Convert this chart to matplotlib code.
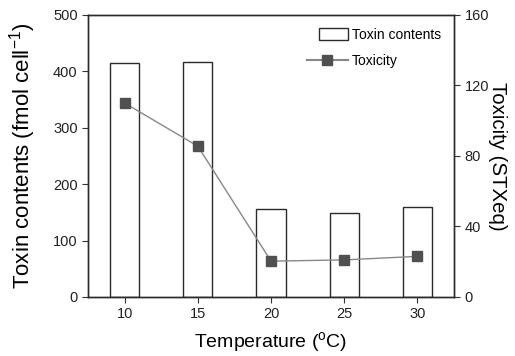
import matplotlib
matplotlib.use("Agg")
import matplotlib.pyplot as plt
from matplotlib.lines import Line2D
from matplotlib.patches import Patch, Rectangle
from matplotlib.legend_handler import HandlerPatch

plt.rcParams['font.family'] = ['Liberation Sans', 'DejaVu Sans']
plt.rcParams['mathtext.fontset'] = 'custom'
plt.rcParams['mathtext.rm'] = 'Liberation Sans'
plt.rcParams['mathtext.it'] = 'Liberation Sans'
plt.rcParams['mathtext.default'] = 'regular'

temperature = [10, 15, 20, 25, 30]
toxin_contents = [415, 417, 156, 149, 160]
toxicity = [110, 85.5, 20.3, 21, 23]

fig = plt.figure(figsize=(5.15, 3.56), dpi=100)
ax = fig.add_axes([0.171, 0.166, 0.7106, 0.792])
ax.bar(temperature, toxin_contents, width=2, facecolor='white', edgecolor='#2a2a2a', linewidth=1.0, zorder=2)
ax.set_xlim(7.5, 32.5)
ax.set_ylim(0, 500)
ax.set_xticks(temperature)
ax.set_yticks([0, 100, 200, 300, 400, 500])
ax.set_xlabel('Temperature ($^{o}$C)', fontsize=14, labelpad=6)
ax.set_ylabel('Toxin contents (fmol cell$^{-1}$)', fontsize=16, labelpad=11)

ax2 = ax.twinx()
ax2.plot(temperature, toxicity, color='#888888', linewidth=1.0, marker='s', markersize=7.2,
         markerfacecolor='#505050', markeredgecolor='#505050', zorder=3)
ax2.set_ylim(0, 160)
ax2.set_yticks([0, 40, 80, 120, 160])
ax2.set_ylabel('Toxicity (STXeq)', fontsize=14.7, rotation=270, labelpad=13)

for a in (ax, ax2):
    a.tick_params(direction='out', labelsize=10.5, width=0.8, length=4, colors='#333333', labelcolor='#222222')
    for s in a.spines.values():
        s.set_color('#2a2a2a')
        s.set_linewidth(1.0)


def small_box(legend, orig_handle, xdescent, ydescent, width, height, fontsize):
    w = width * 0.7
    h = height * 1.2
    return Rectangle((width - w - xdescent, -ydescent - (h - height) / 2), w, h)


handles = [Patch(facecolor='white', edgecolor='#2a2a2a', linewidth=1.0),
           Line2D([], [], color='#888888', marker='s', markersize=7.2,
                  markerfacecolor='#505050', markeredgecolor='#505050')]
ax2.legend(handles, ['Toxin contents', 'Toxicity'], loc='upper right', frameon=False,
           fontsize=10, handlelength=2.9, handletextpad=0.3, borderaxespad=0.55,
           labelspacing=0.85,
           handler_map={Patch: HandlerPatch(patch_func=small_box)})

fig.savefig('out.png', dpi=100)
